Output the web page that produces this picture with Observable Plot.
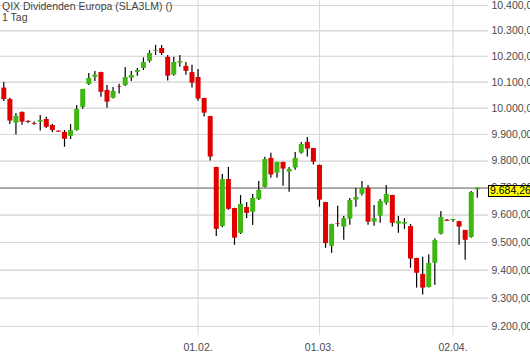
<!DOCTYPE html>
<html><head><meta charset="utf-8">
<script src="https://cdn.jsdelivr.net/npm/d3@7"></script>
<script src="https://cdn.jsdelivr.net/npm/@observablehq/plot@0.6"></script>
<style>
body{margin:0;background:#fff}
#chart{width:530px;height:359px;overflow:hidden}
</style>
</head><body><div id="chart"></div>
<script>
const title = "QIX Dividenden Europa (SLA3LM) ()";
const subtitle = "1 Tag";
const lastPriceLabel = "9.684,26";

const open = [10077,10033,9943,9984,9949.5,9942,9947,9957,9934,9913,
 9908,9893,9915,10003,10091,10119,10137,10068,10038,10083,
 10087,10115,10138,10153,10181,10220,10231,10196,10127,10174,
 10161,10137,10118,10037,9968,9776,9558,9731,9624,9533,
 9628,9610,9657,9702,9810,9755,9795,9759,9774,9830,
 9870,9847,9784,9646,9486,9569,9556,9585,9655,9677,
 9699,9574,9596,9644,9672,9567,9567,9558,9442,9385,
 9338,9425,9530,9581,9580,9576,9544,9518,9693];
const high = [10099,10038,9980,9985,9952,9947,9972,9965,9938,9913,
 9915,9938,10010,10072,10133,10141,10138,10087,10079,10092,
 10157,10141,10153,10194,10222,10243,10242,10203,10196,10203,
 10176,10165,10149,10038,9969,9777,9750,9776,9625,9672,
 9646,9676,9724,9814,9829,9796,9796,9776,9832,9870,
 9889,9848,9785,9647,9566,9632,9595,9661,9698,9724,
 9709,9635,9657,9709,9673,9595,9587,9566,9443,9447,
 9456,9513,9613,9584,9584,9577,9544,9687,9700];
const low = [10026,9938,9898,9935,9942,9935,9913,9923,9908,9909,
 9852,9881,9912,9996,10087,10102,10042,10000,10035,10054,
 10083,10102,10123,10145,10174,10204,10203,10104,10123,10158,
 10127,10077,10027,9966,9800,9522,9554,9617,9490,9529,
 9587,9562,9654,9700,9736,9736,9706,9684,9766,9826,
 9815,9785,9629,9479,9461,9556,9508,9563,9629,9670,
 9563,9559,9570,9636,9556,9534,9548,9407,9336,9311,
 9336,9346,9527,9577,9574,9490,9436,9515,9662];
const close = [10033,9951,9969,9947,9946,9939,9953,9927,9915,9909,
 9882,9915,9995,10072,10114,10127,10061,10023,10064,10081,
 10118,10126,10145,10176,10211,10223,10211,10123,10176,10180,
 10142,10096,10035,9981,9815,9548,9731,9621,9516,9639,
 9606,9661,9691,9806,9748,9795,9770,9769,9810,9862,
 9845,9796,9655,9496,9565,9567,9587,9654,9665,9699,
 9574,9587,9650,9676,9570,9576,9573,9440,9389,9336,
 9424,9507,9591,9577,9584,9556,9508,9683,9699];

const xTickIndex = [32, 52, 74];
const xTickLabels = ["01.02.", "01.03.", "02.04."];
const yTicks = [9200,9300,9400,9500,9600,9700,9800,9900,10000,10100,10200,10300,10400];

const RED = "#e00000", GREEN = "#3fb712", GRID = "#d8d8d8", TEXT = "#4a4a4a";

const candles = open.map((o, i) => ({i, o, h: high[i], l: low[i], c: close[i], col: close[i] >= o ? GREEN : RED}));
const lastClose = close[close.length - 1];

const de = d3.formatLocale({decimal: ",", thousands: ".", grouping: [3], currency: ["", " €"]});
const fmt = de.format(",.2f");

function priceTag(index, scales, values, dims) {
  const yv = scales.y(lastClose);
  const x0 = dims.width - dims.marginRight;
  const g = d3.create("svg:g");
  g.append("rect").attr("x", x0 + 0.5).attr("y", Math.round(yv) - 2.5).attr("width", 60).attr("height", 11)
    .attr("fill", "#ffff00").attr("stroke", "#000").attr("stroke-width", 1);
  g.append("text").attr("x", x0 + 2).attr("y", yv + 6.3).attr("fill", "#000")
    .attr("text-anchor", "start").attr("font-size", "10.5px").text(lastPriceLabel);
  return g.node();
}

const chart = Plot.plot({
  width: 530, height: 359,
  marginLeft: 0, marginRight: 42, marginTop: 0, marginBottom: 24,
  style: {fontFamily: "'Liberation Sans', Arial, sans-serif", fontSize: "10.5px", background: "#fff"},
  x: {type: "linear", domain: [-0.5436, 79.845], axis: null},
  y: {type: "log", domain: [9168.4, 10419.9], axis: null},
  color: {type: "identity"},
  marks: [
    Plot.ruleY(yTicks, {y: d => d, stroke: GRID, strokeWidth: 1}),
    Plot.tickY(yTicks, {y: d => d, frameAnchor: "right", stroke: GRID}),
    Plot.ruleX(xTickIndex, {x: d => d, stroke: GRID, strokeWidth: 1}),
    Plot.ruleY([lastClose], {stroke: "#8a8a8a", strokeWidth: 1.2}),
    Plot.ruleX(candles, {x: "i", y1: "l", y2: "h", stroke: "#000", strokeWidth: 1.2}),
    Plot.ruleX(candles, {x: "i", y1: "o", y2: "c", stroke: "col", strokeWidth: 5}),
    Plot.text(yTicks, {y: d => d, text: d => fmt(d), frameAnchor: "right", dx: 3, textAnchor: "start", fill: TEXT}),
    Plot.text(xTickIndex, {x: d => d, text: d => xTickLabels[xTickIndex.indexOf(d)], frameAnchor: "bottom", dy: 15, fill: TEXT}),
    priceTag,
    Plot.text([title], {text: d => d, frameAnchor: "top-left", dx: 1.5, dy: 2, lineAnchor: "top", textAnchor: "start", fill: "#444", fontSize: 10.5}),
    Plot.text([subtitle], {text: d => d, frameAnchor: "top-left", dx: 1.5, dy: 13, lineAnchor: "top", textAnchor: "start", fill: "#444", fontSize: 10.5})
  ]
});
document.getElementById("chart").appendChild(chart);
</script>
</body></html>
